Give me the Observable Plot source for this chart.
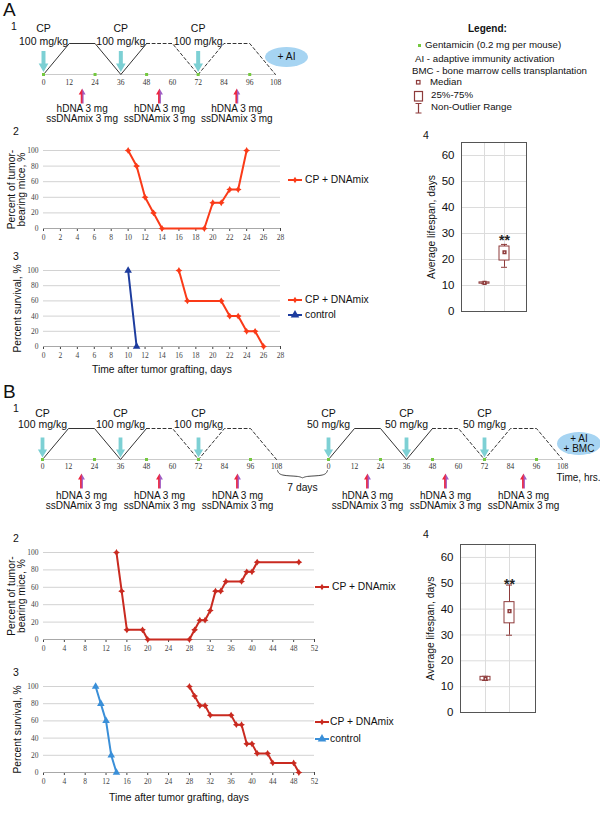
<!DOCTYPE html>
<html><head><meta charset="utf-8">
<script src="https://cdn.jsdelivr.net/npm/d3@7"></script>
<script src="https://cdn.jsdelivr.net/npm/@observablehq/plot@0.6"></script>
<style>
body{margin:0;background:#fff;}
#fig{position:relative;width:600px;height:816px;overflow:hidden;font-family:"Liberation Sans",Arial,sans-serif;color:#111;}
#fig svg{overflow:visible;}
</style></head><body>
<svg width="0" height="0" style="position:absolute"><defs>
<linearGradient id="dnaGrad" x1="0" x2="1" y1="0" y2="0">
<stop offset="0" stop-color="#f21d36"/><stop offset="0.45" stop-color="#ea2a45"/><stop offset="0.6" stop-color="#a45cc2"/><stop offset="1" stop-color="#9a62c6"/>
</linearGradient></defs></svg>
<div id="fig"></div>
<script>
// ---------- data ----------
const scheduleHours = [0, 12, 24, 36, 48, 60, 72, 84, 96, 108];
const toxicityLevel = [0, 1, 1, 0, 1, 1, 0, 1, 1, 0];
const solidUntil = 48;
const cpDoseHours = [0, 36, 72];
const gentamicinHours = [0, 24, 48, 72, 96];
const dnaHours = [18, 54, 90];
const restGap = [108, 132];           // 7-day break in the B schedule (virtual hours)
const cpDosesA = ["100 mg/kg"];
const cpDosesB = ["100 mg/kg", "50 mg/kg"];

const aDayTicks = [0, 2, 4, 6, 8, 10, 12, 14, 16, 18, 20, 22, 24, 26, 28];
const bDayTicks = [0, 4, 8, 12, 16, 20, 24, 28, 32, 36, 40, 44, 48, 52];
const pctTicks = [0, 20, 40, 60, 80, 100];
const lifespanTicks = [0, 10, 20, 30, 40, 50, 60];

const a2Days = [10, 11, 12, 13, 14, 19, 20, 21, 22, 23, 24];
const a2Tumor = [100, 80, 40, 20, 0, 0, 33, 33, 50, 50, 100];
const a3CpDays = [16, 17, 21, 22, 23, 24, 25, 26];
const a3CpSurv = [100, 60, 60, 40, 40, 20, 20, 0];
const a3CtrlDays = [10, 11];
const a3CtrlSurv = [100, 0];

const b2Days = [14, 15, 16, 19, 20, 28, 29, 30, 31, 32, 33, 34, 35, 38, 39, 40, 41, 49];
const b2Tumor = [100, 55.6, 11.1, 11.1, 0, 0, 11.1, 22.2, 22.2, 33.3, 55.6, 55.6, 66.7, 66.7, 77.8, 77.8, 88.9, 88.9];
const b3CpDays = [28, 29, 30, 31, 32, 36, 37, 38, 39, 40, 41, 43, 44, 48, 49];
const b3CpSurv = [100, 88.9, 77.8, 77.8, 66.7, 66.7, 55.6, 55.6, 33.3, 33.3, 22.2, 22.2, 11.1, 11.1, 0];
const b3CtrlDays = [10, 11, 12, 13, 14];
const b3CtrlSurv = [100, 80, 60, 20, 0];

const boxGroups = ["control", "CP + DNAmix"];
const a4Min = [10.7, 17], a4Q1 = [10.7, 19.6], a4Med = [11, 22.8], a4Q3 = [11.2, 25], a4Max = [11.2, 25.8];
const b4Min = [12.4, 29.9], b4Q1 = [12.4, 34.5], b4Med = [13, 39.2], b4Q3 = [13.8, 42.7], b4Max = [14, 49.3];
const a4Sig = 28.8, b4Sig = 51.2;

// ---------- helpers ----------
const SANS = "Liberation Sans, Arial, sans-serif";
const SERIF = "Liberation Serif, Times New Roman, serif";
const fig = document.getElementById("fig");
function place(el, left, top) {
  el.style.position = "absolute"; el.style.left = left + "px"; el.style.top = top + "px";
  el.style.background = "transparent"; el.style.maxWidth = "none";
  fig.appendChild(el); return el;
}
function label(text, left, cy, size, css) {
  const d = document.createElement("div");
  d.textContent = text;
  d.style.cssText = `position:absolute;left:${left}px;top:${cy - size * 0.52}px;font-size:${size}px;line-height:1;white-space:pre;${css || ""}`;
  fig.appendChild(d); return d;
}
const arrowSym = {draw(ctx, size) {
  const r = Math.sqrt(size / Math.PI), hh = 0.8 * r, hw = 0.46 * r, sw = 0.19 * r;
  ctx.moveTo(0, -r); ctx.lineTo(hw, -r + hh); ctx.lineTo(sw, -r + hh); ctx.lineTo(sw, r);
  ctx.lineTo(-sw, r); ctx.lineTo(-sw, -r + hh); ctx.lineTo(-hw, -r + hh); ctx.closePath();
}};
const star4 = {draw(ctx, size) {
  const r = Math.sqrt(size / Math.PI), i = r * 0.38;
  ctx.moveTo(0, -r); ctx.lineTo(i, -i); ctx.lineTo(r, 0); ctx.lineTo(i, i);
  ctx.lineTo(0, r); ctx.lineTo(-i, i); ctx.lineTo(-r, 0); ctx.lineTo(-i, -i); ctx.closePath();
}};

// ---------- schedule diagrams ----------
function schedulePlot(o) {
  const solid = [], dashed = [], doses = [], gent = [], dna = [], ticks = [], tickLab = new Map();
  o.offsets.forEach((off, p) => {
    scheduleHours.forEach((h, i) => {
      const pt = {t: off + h, v: toxicityLevel[i], phase: p};
      if (h <= solidUntil) solid.push(pt);
      if (h >= solidUntil) dashed.push(pt);
      ticks.push(off + h); tickLab.set(off + h, String(h));
    });
    cpDoseHours.forEach(h => doses.push({t: off + h, dose: o.doses[p]}));
    gentamicinHours.forEach(h => gent.push({t: off + h}));
    dnaHours.forEach(h => dna.push({t: off + h}));
  });
  const xMax = o.offsets[o.offsets.length - 1] + scheduleHours[scheduleHours.length - 1];
  const marks = [
    Plot.ruleY([0], {stroke: "#cbcbcb"}),
    Plot.line(solid, {x: "t", y: "v", z: "phase", stroke: "#333", strokeWidth: 1}),
    Plot.line(dashed, {x: "t", y: "v", z: "phase", stroke: "#333", strokeWidth: 1, strokeDasharray: "3,2.5"}),
    Plot.dot(gent, {x: "t", y: 0, symbol: "square", r: 1.7, fill: "#74c83f"}),
    Plot.dot(doses, {x: "t", y: o.cyanY, symbol: arrowSym, r: o.cyanR, rotate: 180, fill: "#7dd0d4"}),
    Plot.dot(dna, {x: "t", y: -0.69, symbol: arrowSym, r: 7.5, fill: "url(#dnaGrad)"}),
    Plot.text(doses, {x: "t", y: 1, text: () => "CP", dy: -15, fontFamily: SANS, fontSize: 10.5, fill: "#111"}),
    Plot.text(doses, {x: "t", y: 1, text: "dose", dy: o.doseDy, fontFamily: SANS, fontSize: 10.5, fill: "#111"}),
    Plot.text(dna, {x: "t", y: 0, text: () => "hDNA 3 mg", dy: o.dnaDy, fontFamily: SANS, fontSize: 10, fill: "#111"}),
    Plot.text(dna, {x: "t", y: 0, text: () => "ssDNAmix 3 mg", dy: o.dnaDy + 10, fontFamily: SANS, fontSize: 10, fill: "#111"})
  ];
  if (o.offsets.length > 1) {
    const [a, b] = restGap, m = (a + b) / 2;
    const brace = [[a + 0.5, -0.36], [a + 1.5, -0.53], [m - 1, -0.53], [m, -0.62], [m + 1, -0.53], [b - 1.5, -0.53], [b - 0.5, -0.36]];
    marks.push(Plot.line(brace, {x: d => d[0], y: d => d[1], stroke: "#333", strokeWidth: 0.9, curve: "basis"}));
    marks.push(Plot.text(["7 days"], {x: m, y: 0, dy: 28, fontFamily: SANS, fontSize: 10.3, fill: "#111"}));
    marks.push(Plot.text(["Time, hrs."], {x: xMax, y: 0, dy: 18, dx: 16, fontFamily: SANS, fontSize: 10, fill: "#111"}));
  }
  return Plot.plot({
    width: o.width, height: o.height, marginLeft: o.ml, marginRight: o.mr, marginTop: o.mt, marginBottom: o.mb,
    x: {domain: [0, xMax], ticks, tickFormat: t => tickLab.get(t), tickSize: 0, tickPadding: o.tp, label: null},
    y: {domain: [0, 1], axis: null},
    style: {fontFamily: SERIF, fontSize: "7.5px", color: "#333", background: "transparent", overflow: "visible"},
    marks
  });
}

// ---------- line charts ----------
function linePlot(o) {
  const marks = [
    Plot.ruleY(pctTicks.slice(1), {stroke: "#d2d2d2"}),
    Plot.ruleY([0], {stroke: "#a8a8a8"})
  ];
  o.series.forEach(s => {
    const rows = s.days.map((d, i) => ({d, v: s.vals[i]}));
    marks.push(Plot.line(rows, {x: "d", y: "v", stroke: s.color, strokeWidth: 2}));
    marks.push(Plot.dot(rows, {x: "d", y: "v", symbol: s.symbol, r: s.r, fill: s.color}));
  });
  marks.push(Plot.text([o.ylabel], {frameAnchor: "left", textAnchor: "middle", lineAnchor: "middle", rotate: -90, dx: o.ydx,
    fontFamily: SANS, fontSize: 10.3, lineHeight: 1.0, fill: "#111"}));
  if (o.xlabel) marks.push(Plot.text([o.xlabel], {frameAnchor: "bottom", textAnchor: "middle", lineAnchor: "middle", dy: o.xdy,
    fontFamily: SANS, fontSize: 10.3, fill: "#111"}));
  return Plot.plot({
    width: o.width, height: o.height, marginLeft: 43, marginRight: o.mr, marginTop: 10, marginBottom: o.mb,
    x: {domain: [0, o.xMax], ticks: o.xticks, tickSize: 3, tickPadding: 3, label: null},
    y: {domain: [0, 100], ticks: pctTicks, tickSize: 0, tickPadding: 5, label: null},
    style: {fontFamily: SERIF, fontSize: "7.5px", color: "#444", background: "transparent", overflow: "visible"},
    marks
  });
}
function lineLegend(cx, cy, color, symbol, text, textLeft) {
  const ns = "http://www.w3.org/2000/svg";
  const s = document.createElementNS(ns, "svg");
  s.setAttribute("width", 16); s.setAttribute("height", 8);
  s.style.cssText = `position:absolute;left:${cx - 8}px;top:${cy - 4}px;`;
  const l = document.createElementNS(ns, "line");
  l.setAttribute("x1", 1); l.setAttribute("x2", 15); l.setAttribute("y1", 4); l.setAttribute("y2", 4);
  l.setAttribute("stroke", color); l.setAttribute("stroke-width", 2);
  const p = document.createElementNS(ns, "path");
  p.setAttribute("d", d3.symbol(symbol, 3.2 * 3.2 * Math.PI)());
  p.setAttribute("transform", "translate(8,4)"); p.setAttribute("fill", color);
  s.appendChild(l); s.appendChild(p); fig.appendChild(s);
  label(text, textLeft, cy, 10.3);
}

// ---------- box plots ----------
function boxPlot(o) {
  const c = "#8e3b3b";
  const rows = boxGroups.map((g, i) => ({g, lo: o.min[i], q1: o.q1[i], med: o.med[i], q3: o.q3[i], hi: o.max[i]}));
  return Plot.plot({
    width: o.width, height: o.height, marginLeft: o.ml, marginRight: o.mr, marginTop: o.mt, marginBottom: o.mb,
    x: {type: "band", domain: boxGroups, paddingInner: o.pi, paddingOuter: o.po, axis: null},
    y: {domain: [0, 65], ticks: lifespanTicks, tickSize: 0, tickPadding: 7, label: null},
    style: {fontFamily: SANS, fontSize: "11.5px", color: "#111", background: "transparent", overflow: "visible"},
    marks: [
      Plot.ruleY(lifespanTicks, {stroke: "#dcdcdc"}),
      Plot.ruleX(boxGroups, {x: d => d, stroke: "#dcdcdc"}),
      Plot.ruleX(rows, {x: "g", y1: "lo", y2: "hi", stroke: c}),
      Plot.tickY(rows, {x: "g", y: "lo", stroke: c, inset: 2}),
      Plot.tickY(rows, {x: "g", y: "hi", stroke: c, inset: 2}),
      Plot.barY(rows, {x: "g", y1: "q1", y2: "q3", fill: "white", stroke: c}),
      Plot.dot(rows, {x: "g", y: "med", symbol: "square", r: 1.5, stroke: c, fill: "white"}),
      Plot.text([o.sig], {x: () => boxGroups[1], y: d => d, text: () => "**", fontFamily: SANS, fontSize: 14, fontWeight: "bold", dy: 4, fill: "#222"}),
      Plot.text(["Average lifespan, days"], {frameAnchor: "left", textAnchor: "middle", lineAnchor: "middle", rotate: -90, dx: -30,
        fontFamily: SANS, fontSize: 10.3, fill: "#111"}),
      Plot.frame({stroke: "#555"})
    ]
  });
}

// ---------- panel A ----------
label("A", 3, 10, 19);
label("1", 11, 26.5, 10.5);
place(schedulePlot({offsets: [0], doses: cpDosesA, width: 320, height: 130, ml: 43, mr: 45, mt: 43, mb: 56, tp: 5,
  cyanY: 0.42, cyanR: 10.5, doseDy: -2, dnaDy: 34}), 0, 0);
const eA = document.createElement("div");
eA.style.cssText = "position:absolute;left:265px;top:47px;width:43px;height:20px;border-radius:50%;background:#a6d4f2;font-size:10.3px;line-height:20px;text-align:center;";
eA.textContent = "+ AI"; fig.appendChild(eA);

label("Legend:", 468, 29, 10, "font-weight:bold;");
const gsq = document.createElement("div");
gsq.style.cssText = "position:absolute;left:417.5px;top:43.5px;width:3px;height:3px;background:#74c83f;"; fig.appendChild(gsq);
label("Gentamicin (0.2 mg per mouse)", 425, 45, 9.7);
label("AI - adaptive immunity activation", 415, 59, 9.7);
label("BMC - bone marrow cells transplantation", 412, 71.5, 9.7);
const legIcons = document.createElementNS("http://www.w3.org/2000/svg", "svg");
legIcons.setAttribute("width", 16); legIcons.setAttribute("height", 36);
legIcons.style.cssText = "position:absolute;left:412px;top:78px;";
legIcons.innerHTML = '<rect x="4.5" y="2.5" width="3.5" height="3.5" fill="white" stroke="#8e3b3b" stroke-width="1.2"/>' +
  '<rect x="2.5" y="13.5" width="8" height="9.5" fill="white" stroke="#8e3b3b" stroke-width="1.2"/>' +
  '<path d="M3.5 25.5H9.5M6.5 25.5V35M3.5 35H9.5" stroke="#8e3b3b" stroke-width="1.2" fill="none"/>';
fig.appendChild(legIcons);
label("Median", 430, 82.5, 9.7);
label("25%-75%", 431, 95.5, 9.7);
label("Non-Outlier Range", 431, 107.5, 9.7);

label("2", 13, 131, 10.5);
place(linePlot({width: 290, height: 104, mr: 10, mb: 16, xMax: 28, xticks: aDayTicks, ydx: -27,
  ylabel: "Percent of tumor-\nbearing mice, %",
  series: [{days: a2Days, vals: a2Tumor, color: "#fa3a18", symbol: star4, r: 3.4}]}), 0, 140);
lineLegend(295, 180, "#fa3a18", star4, "CP + DNAmix", 305);

label("3", 13, 256, 10.5);
place(linePlot({width: 290, height: 120, mr: 10, mb: 34, xMax: 28, xticks: aDayTicks, ydx: -26,
  ylabel: "Percent survival, %", xlabel: "Time after tumor grafting, days", xdy: 23,
  series: [{days: a3CpDays, vals: a3CpSurv, color: "#fa3a18", symbol: star4, r: 3.4},
           {days: a3CtrlDays, vals: a3CtrlSurv, color: "#1d3c9e", symbol: "triangle", r: 2.8}]}), 0, 260);
lineLegend(295, 300, "#fa3a18", star4, "CP + DNAmix", 305);
lineLegend(295, 315, "#1d3c9e", d3.symbolTriangle, "control", 305);

label("4", 423, 135, 10.5);
place(boxPlot({width: 140, height: 200, ml: 61, mr: 14, mt: 12, mb: 19, pi: 0.52, po: 0.81,
  min: a4Min, q1: a4Q1, med: a4Med, q3: a4Q3, max: a4Max, sig: a4Sig}), 400, 130);

// ---------- panel B ----------
label("B", 3, 391.5, 19);
label("1", 13, 408, 10.5);
place(schedulePlot({offsets: [0, restGap[1]], doses: cpDosesB, width: 600, height: 130, ml: 42, mr: 38, mt: 38, mb: 61, tp: 4,
  cyanY: 0.39, cyanR: 10, doseDy: -4, dnaDy: 36}), 0, 390);
const eB = document.createElement("div");
eB.style.cssText = "position:absolute;left:557px;top:432px;width:44px;height:23px;border-radius:50%;background:#a6d4f2;font-size:10px;line-height:9.5px;text-align:center;padding-top:2px;box-sizing:border-box;white-space:pre;";
eB.textContent = "+ AI\n+ BMC"; fig.appendChild(eB);

label("2", 13, 538, 10.5);
place(linePlot({width: 324, height: 113, mr: 10, mb: 16, xMax: 52, xticks: bDayTicks, ydx: -27,
  ylabel: "Percent of tumor-\nbearing mice, %",
  series: [{days: b2Days, vals: b2Tumor, color: "#c92a20", symbol: star4, r: 3.4}]}), 0, 542);
lineLegend(322, 587, "#c92a20", star4, "CP + DNAmix", 332);

label("3", 13, 672, 10.5);
place(linePlot({width: 324, height: 130, mr: 10, mb: 34, xMax: 52, xticks: bDayTicks, ydx: -26,
  ylabel: "Percent survival, %", xlabel: "Time after tumor grafting, days", xdy: 25,
  series: [{days: b3CpDays, vals: b3CpSurv, color: "#c92a20", symbol: star4, r: 3.4},
           {days: b3CtrlDays, vals: b3CtrlSurv, color: "#3a8fd8", symbol: "triangle", r: 2.8}]}), 0, 676);
lineLegend(322, 722, "#c92a20", star4, "CP + DNAmix", 330);
lineLegend(322, 739, "#3a8fd8", d3.symbolTriangle, "control", 330);

label("4", 423, 534, 10.5);
place(boxPlot({width: 150, height: 200, ml: 60, mr: 15, mt: 12, mb: 20, pi: 0.58, po: 0.85,
  min: b4Min, q1: b4Q1, med: b4Med, q3: b4Q3, max: b4Max, sig: b4Sig}), 400, 532);
</script></body></html>
